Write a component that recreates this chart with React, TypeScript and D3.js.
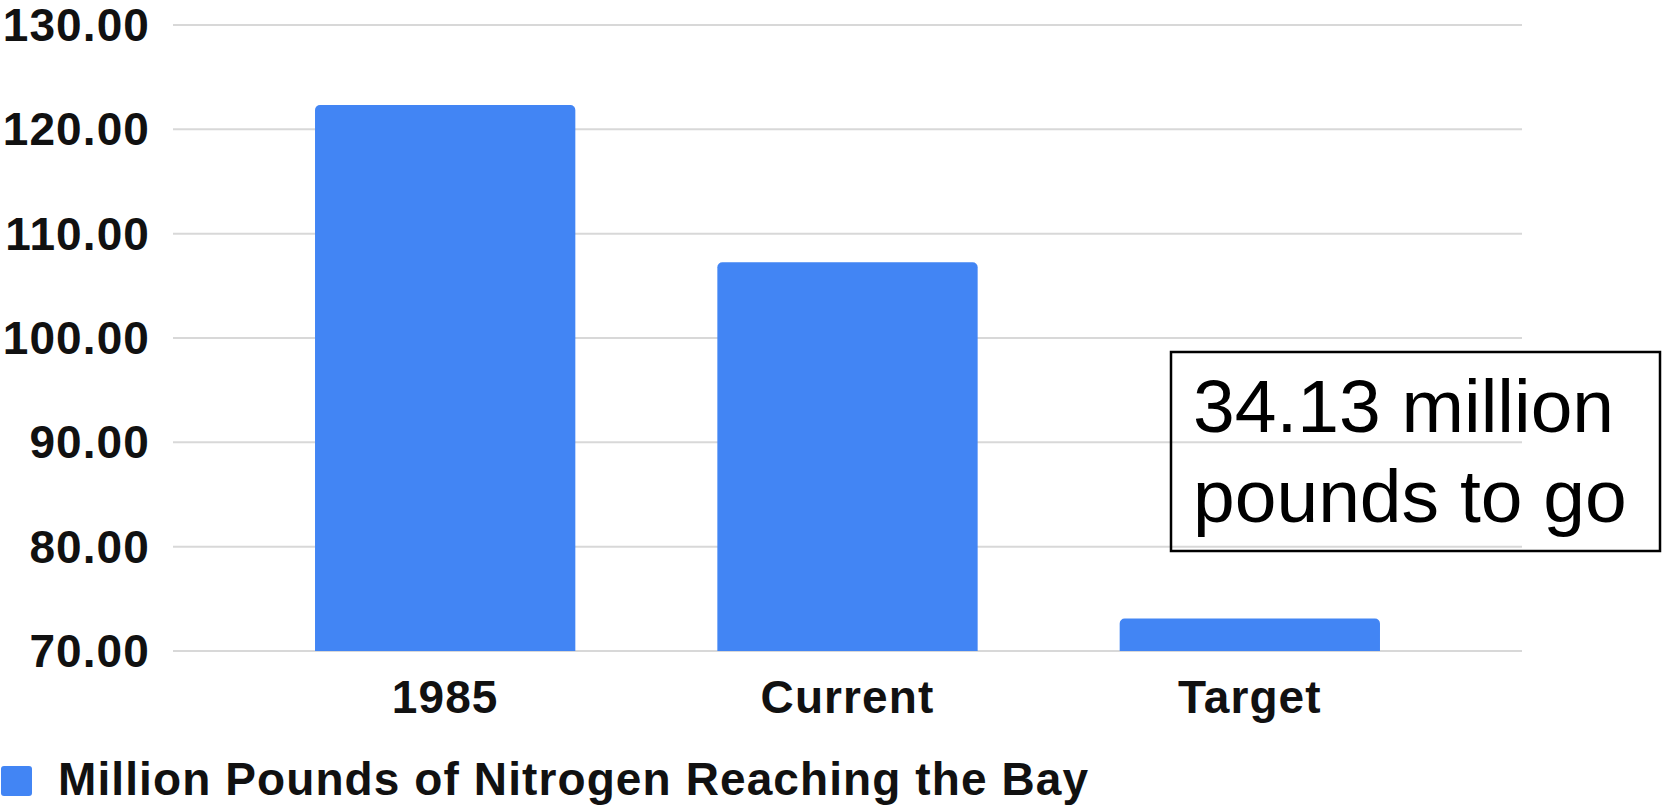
import React, { useEffect, useRef } from 'react';
import * as d3 from 'd3';

// Values
const categories = ['1985', 'Current', 'Target'];
const nitrogenValues = [122.33, 107.25, 73.12];
const yTicks = [70, 80, 90, 100, 110, 120, 130];
const legendLabel = 'Million Pounds of Nitrogen Reaching the Bay';
const noteLines = ['34.13 million', 'pounds to go'];

const WIDTH = 1662;
const HEIGHT = 805;
const FONT = '"Liberation Sans", Arial, Helvetica, sans-serif';
const BAR_COLOR = '#4285f4';
const BOLD_SPACING = 1.1;

// bar path with only the top corners rounded
function topRoundedBar(x: number, y: number, w: number, h: number, r: number) {
  const p = d3.path();
  p.moveTo(x, y + h);
  p.lineTo(x, y + r);
  p.arcTo(x, y, x + r, y, r);
  p.lineTo(x + w - r, y);
  p.arcTo(x + w, y, x + w, y + r, r);
  p.lineTo(x + w, y + h);
  p.closePath();
  return p.toString();
}

const NitrogenChart: React.FC = () => {
  const svgRef = useRef<SVGSVGElement>(null);

  useEffect(() => {
    if (!svgRef.current) return;

    const svg = d3.select(svgRef.current);
    svg.selectAll('*').remove();

    const plotLeft = 173;
    const plotRight = 1522;
    const plotTop = 25;
    const plotBottom = 651;

    const x = d3.scaleBand<string>()
      .domain(categories)
      .range([plotLeft, plotRight])
      .padding(0.353);

    const y = d3.scaleLinear()
      .domain([70, 130])
      .range([plotBottom, plotTop]);

    // Gridlines
    svg.append('g')
      .selectAll('line')
      .data(yTicks)
      .enter().append('line')
      .attr('x1', plotLeft)
      .attr('x2', plotRight)
      .attr('y1', d => y(d))
      .attr('y2', d => y(d))
      .attr('stroke', '#d8d8d8')
      .attr('stroke-width', 2);

    // Y tick labels
    svg.append('g')
      .selectAll('text')
      .data(yTicks)
      .enter().append('text')
      .attr('x', 150)
      .attr('y', d => y(d))
      .attr('dy', '0.35em')
      .attr('text-anchor', 'end')
      .attr('font-family', FONT)
      .attr('font-weight', 'bold')
      .attr('font-size', 46)
      .attr('letter-spacing', BOLD_SPACING)
      .attr('fill', '#111')
      .text(d => d3.format('.2f')(d));

    // Bars
    svg.append('g')
      .selectAll('path')
      .data(categories.map((c, i) => ({ c, v: nitrogenValues[i] })))
      .enter().append('path')
      .attr('d', d => topRoundedBar(x(d.c)!, y(d.v), x.bandwidth(), y(70) - y(d.v), 5))
      .attr('fill', BAR_COLOR);

    // X labels
    svg.append('g')
      .selectAll('text')
      .data(categories)
      .enter().append('text')
      .attr('x', d => x(d)! + x.bandwidth() / 2)
      .attr('y', 713)
      .attr('text-anchor', 'middle')
      .attr('font-family', FONT)
      .attr('font-weight', 'bold')
      .attr('font-size', 46)
      .attr('letter-spacing', BOLD_SPACING)
      .attr('fill', '#111')
      .text(d => d);

    // Legend
    svg.append('rect')
      .attr('x', 1)
      .attr('y', 766)
      .attr('width', 31)
      .attr('height', 30)
      .attr('rx', 3)
      .attr('fill', BAR_COLOR);

    svg.append('text')
      .attr('x', 58)
      .attr('y', 795)
      .attr('font-family', FONT)
      .attr('font-weight', 'bold')
      .attr('font-size', 46)
      .attr('letter-spacing', BOLD_SPACING)
      .attr('fill', '#111')
      .text(legendLabel);

    // Annotation box
    svg.append('rect')
      .attr('x', 1171)
      .attr('y', 352)
      .attr('width', 489)
      .attr('height', 199)
      .attr('fill', 'none')
      .attr('stroke', '#000')
      .attr('stroke-width', 2.5);

    svg.append('g')
      .selectAll('text')
      .data(noteLines)
      .enter().append('text')
      .attr('x', 1193)
      .attr('y', (_, i) => 432 + i * 90)
      .attr('font-family', FONT)
      .attr('font-size', 75)
      .attr('fill', '#000')
      .text(d => d);
  }, []);

  return (
    <svg
      ref={svgRef}
      width={WIDTH}
      height={HEIGHT}
      style={{ position: 'absolute', left: 0, top: 0, display: 'block', background: '#fff' }}
    />
  );
};

export default function App() {
  return <NitrogenChart />;
}
